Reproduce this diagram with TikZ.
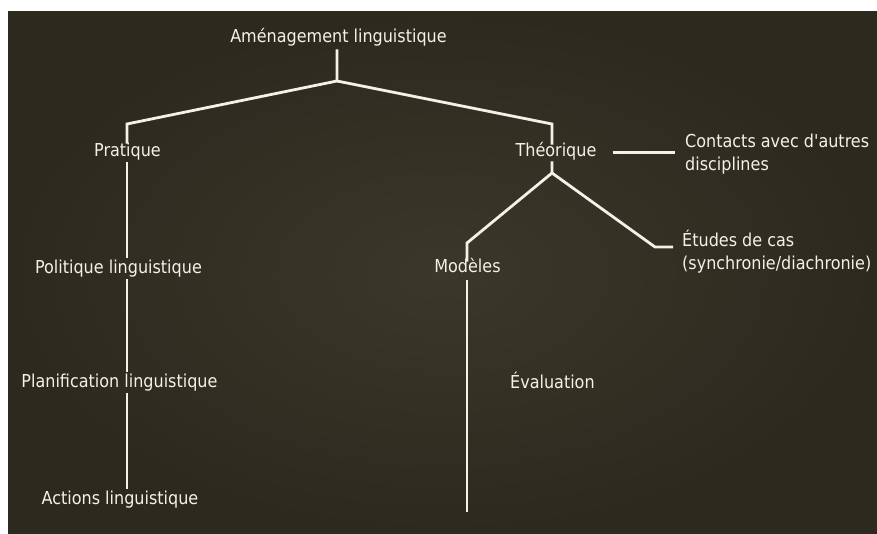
\documentclass[tikz,border=0pt]{standalone}
\usepackage{fontspec}
\setmainfont{DejaVu Sans Condensed}
\definecolor{bgin}{RGB}{58,56,40}
\definecolor{bgout}{RGB}{44,42,31}
\definecolor{ln}{RGB}{244,242,230}
\begin{document}
\begin{tikzpicture}[x=1pt,y=-1pt,
  lbl/.style={text=ln, inner sep=0pt, text height=13pt, text depth=4.5pt, font=\fontsize{17.8}{22.5}\selectfont},
  lbl2/.style={text=ln, inner sep=0pt, align=left, anchor=west, font=\fontsize{17.8}{22.5}\selectfont},
  conn/.style={draw=ln, line width=2.8pt}]
\useasboundingbox (0,0) rectangle (877,534);
\fill[white] (0,0) rectangle (877,534);
\shade[inner color=bgin, outer color=bgout] (8,12) rectangle (877,534);

\node[lbl] (am) at (338.5,38.5) {Aménagement linguistique};
\node[lbl] (pr) at (127.5,152.5) {Pratique};
\node[lbl] (po) at (118.5,269.5) {Politique linguistique};
\node[lbl] (pl) at (119.5,383.5) {Planification linguistique};
\node[lbl] (ac) at (120,500.5) {Actions linguistique};
\node[lbl] (th) at (556,152.5) {Théorique};
\node[lbl2] (co) at (685,154) {Contacts avec d\textquotesingle autres\\disciplines};
\node[lbl2] (et) at (682,251.5) {Études de cas\\(synchronie/diachronie)};
\node[lbl] (mo) at (467.5,268.5) {Modèles};
\node[lbl, anchor=west] (ev) at (510,384.5) {Évaluation};

\coordinate (j0) at (337,81);
\coordinate (jl) at (127,124);
\coordinate (jr) at (552,124);
\coordinate (jt) at (552,173);
\coordinate (jm) at (467,243);
\coordinate (je) at (655,247);
\coordinate (mend) at (467,512);

\draw[conn, shorten <=2pt] (j0 |- am.south) -- (j0) -- (jl) -- (jl |- pr.north);
\draw[conn] (j0) -- (jr) -- ([yshift=-1pt]jr |- th.north);
\draw[conn, shorten <=1pt, shorten >=3pt] (jl |- pr.south) -- (jl |- po.north);
\draw[conn, shorten <=1pt, shorten >=3pt] (jl |- po.south) -- (jl |- pl.north);
\draw[conn, shorten <=1pt, shorten >=3pt] (jl |- pl.south) -- (jl |- ac.north);
\draw[conn] (jr |- th.south) -- (jt) -- (jm) -- ([yshift=-2pt]jm |- mo.north);
\draw[conn, shorten >=9pt] (jt) -- (je) -- (je -| et.west);
\draw[conn, shorten <=16pt, shorten >=10pt] (th.east) -- (th -| co.west);
\draw[conn, shorten <=3pt] (jm |- mo.south) -- (mend);
\end{tikzpicture}
\end{document}
